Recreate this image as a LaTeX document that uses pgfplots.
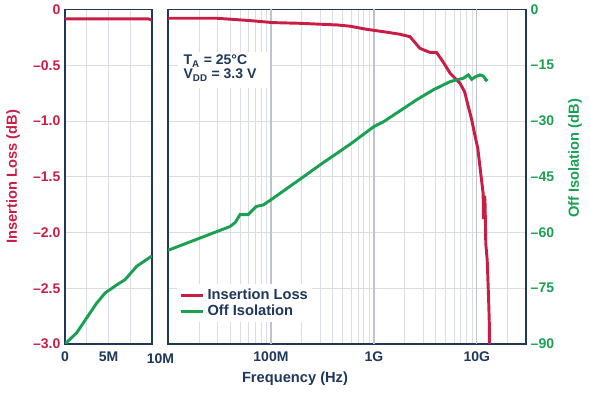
\documentclass[border=0pt]{standalone}
\usepackage{pgfplots}
\pgfplotsset{compat=1.18}
\usepackage{fontspec}
\setmainfont{Liberation Sans}
\definecolor{ilred}{RGB}{200,30,70}
\definecolor{isogreen}{RGB}{25,160,80}
\definecolor{navy}{RGB}{30,55,90}
\definecolor{gridc}{RGB}{218,221,228}
\definecolor{gridmaj}{RGB}{190,195,205}
\begin{document}
\begin{tikzpicture}[x=1pt,y=1pt]
\useasboundingbox (0,0) rectangle (442.5,296.25);
\pgfplotsset{
  mycommon/.style={scale only axis, height=250.9pt, anchor=south west,
    axis line style={navy, line width=1.3pt},
    major tick length=0pt, minor tick length=0pt,
    tick label style={font=\bfseries\fontsize{10.5}{12}\selectfont},
    xticklabel style={navy, yshift=-2pt},
    ymin=-3, ymax=0, clip=true,
    ytick={-3,-2.5,-2,-1.5,-1,-0.5,0},
    major grid style={gridc, line width=0.7pt},
    minor grid style={gridc, line width=0.7pt}},
  isocommon/.style={scale only axis, height=250.9pt, anchor=south west,
    ymin=-90, ymax=0, clip=true}
}
% ---------------- left panel: linear 0..10M
\begin{axis}[mycommon, at={(48.75pt,38.25pt)}, width=65.25pt,
  xmin=0, xmax=1e7, scaled x ticks=false,
  xtick={0,2.5e6,5e6,7.5e6,1e7}, xticklabels={0,,5M,,},
  yticklabels={–3.0,–2.5,–2.0,–1.5,–1.0,–0.5,0},
  yticklabel style={ilred},
  grid=major]
\addplot[ilred, line width=2.2pt] coordinates {
(0,-0.085) (5e6,-0.085) (9.6e6,-0.085) (1e7,-0.095)};
\end{axis}
\begin{axis}[isocommon, at={(48.75pt,38.25pt)}, width=65.25pt,
  xmin=0, xmax=1e7, hide axis]
\addplot[isogreen, line width=2.2pt] coordinates {
(0,-90) (1.34e6,-87.0) (2.49e6,-83.0) (3.64e6,-79.0) (4.6e6,-76.3)
(5.94e6,-74.1) (6.9e6,-72.7) (8.24e6,-69.1) (1e7,-66.3)};
\end{axis}
% ---------------- right panel: log 10M..30G
\begin{axis}[mycommon, at={(126pt,38.25pt)}, width=268.5pt,
  xmode=log, xmin=1e7, xmax=3e10,
  xtick={1e8,1e9,1e10}, xticklabels={100M,1G,10G},
  minor xtick={2e7,3e7,4e7,5e7,6e7,7e7,8e7,9e7,
    2e8,3e8,4e8,5e8,6e8,7e8,8e8,9e8,
    2e9,3e9,4e9,5e9,6e9,7e9,8e9,9e9,2e10},
  yticklabels={},
  xmajorgrids, xminorgrids, ymajorgrids,
  every axis x grid/.append style={},
  major grid style={gridc, line width=0.7pt},
  extra x ticks={1e8,1e9,1e10}, extra x tick labels={},
  extra x tick style={grid=major, major grid style={gridmaj, line width=0.9pt}}]
\addplot[ilred, line width=2.2pt] coordinates {
(1e7,-0.079) (3e7,-0.079) (6.3e7,-0.10) (1.05e8,-0.118) (1.9e8,-0.124)
(4.4e8,-0.139) (5.85e8,-0.150) (8.5e8,-0.178) (1.23e9,-0.199)
(1.78e9,-0.222) (2.24e9,-0.244) (2.79e9,-0.348) (3.47e9,-0.384)
(4.07e9,-0.387) (4.68e9,-0.468) (5.5e9,-0.572) (6.84e9,-0.661)
(7.59e9,-0.737) (8.26e9,-0.871) (8.91e9,-0.99) (9.55e9,-1.125)
(1.02e10,-1.244) (1.10e10,-1.50) (1.15e10,-1.65) (1.16e10,-1.88)
(1.175e10,-1.80) (1.19e10,-1.67) (1.20e10,-1.74) (1.21e10,-1.90)
(1.22e10,-2.10) (1.26e10,-2.25) (1.30e10,-2.60) (1.32e10,-2.81)
(1.32e10,-3.05)};
\end{axis}
\begin{axis}[isocommon, at={(126pt,38.25pt)}, width=268.5pt,
  xmode=log, xmin=1e7, xmax=3e10,
  axis x line=none, axis y line*=right,
  axis line style={navy, line width=1.3pt},
  major tick length=0pt,
  ytick={-90,-75,-60,-45,-30,-15,0},
  yticklabels={–90,–75,–60,–45,–30,–15,0},
  yticklabel style={isogreen, font=\bfseries\fontsize{10.5}{12}\selectfont},
  legend style={at={(0.025,0.179)}, anchor=north west, draw=none,
    fill=white, font=\bfseries\fontsize{11}{13}\selectfont, text=navy,
    inner sep=1.5pt, row sep=-1.5pt},
  legend cell align=left]
\addlegendimage{ilred, line width=2.2pt}
\addlegendentry{Insertion Loss}
\addplot[isogreen, line width=2.2pt] coordinates {
(1e7,-64.8) (2e7,-61.6) (4e7,-58.4) (4.5e7,-57.3) (5e7,-55.2) (6e7,-55.2)
(7.2e7,-53.0) (8.4e7,-52.6) (1e8,-51.2) (2e8,-45.3) (3e8,-41.8)
(5.85e8,-36.3) (1e9,-31.5) (1.24e9,-30.2) (2.6e9,-24.3) (3.78e9,-21.6)
(5.5e9,-19.4) (7.4e9,-18.5) (8.26e9,-17.6) (8.9e9,-18.8) (9.55e9,-18.2)
(1.07e10,-17.6) (1.15e10,-17.9) (1.23e10,-18.95)};
\addlegendentry{Off Isolation}
\addplot[isogreen, only marks, mark=*, mark size=1.4pt, forget plot]
  coordinates {(1.23e10,-18.95)};
\end{axis}
% ---------------- annotations
\fill[white] (133.5,230.25) rectangle (202.5,257.25);
\node[anchor=base west, inner sep=0pt, text=navy, font=\bfseries\fontsize{10.5}{12}\selectfont]
  at (137.5,247.5) {T\textsubscript{A} = 25°C};
\node[anchor=base west, inner sep=0pt, text=navy, font=\bfseries\fontsize{10.5}{12}\selectfont]
  at (137.5,237) {V\textsubscript{DD} = 3.3 V};
\node[text=navy, font=\bfseries\fontsize{10.5}{12}\selectfont] at (120.4,27.6) {10M};
\node[text=navy, font=\bfseries\fontsize{11}{13}\selectfont] at (221.25,12) {Frequency (Hz)};
\node[rotate=90, text=ilred, font=\bfseries\fontsize{11}{13}\selectfont] at (9.75,163.7) {Insertion Loss (dB)};
\node[rotate=90, text=isogreen, font=\bfseries\fontsize{11}{13}\selectfont] at (431.25,177.4) {Off Isolation (dB)};
\end{tikzpicture}
\end{document}
